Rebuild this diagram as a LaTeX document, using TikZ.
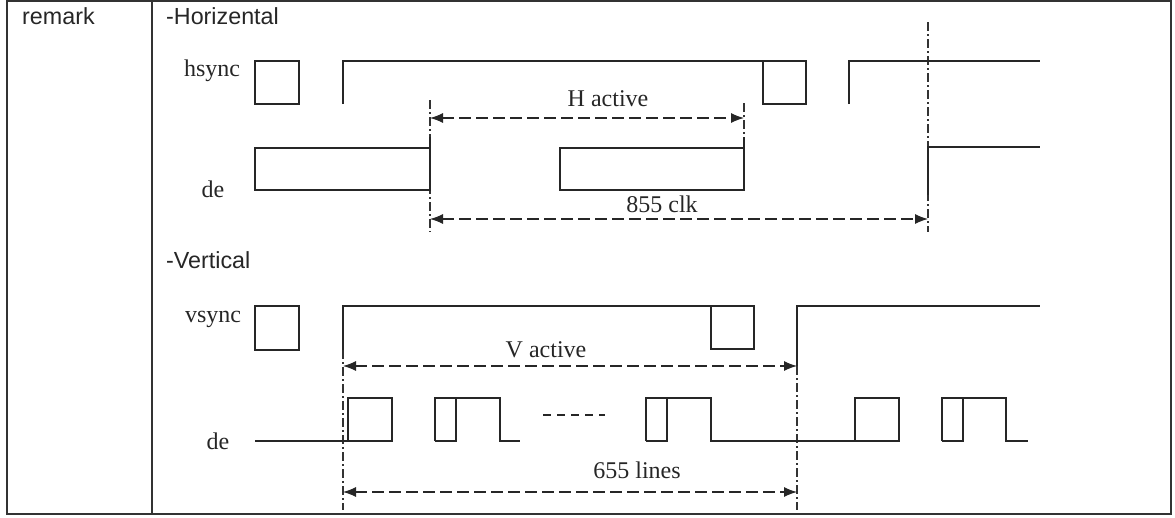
\documentclass[tikz,border=0pt]{standalone}
\usepackage{fontspec}
\setmainfont{Liberation Serif}
\setsansfont{Liberation Sans}
\usetikzlibrary{arrows.meta}

\tikzset{
  wave/.style={line width=1.4pt, draw=black!85},
  guide/.style={line width=1.1pt, draw=black!80, dash pattern=on 9pt off 3pt on 2pt off 3pt},
  span/.style={line width=1.1pt, draw=black!85, dash pattern=on 12pt off 5pt,
    {Latex[length=13pt,width=10pt]}-{Latex[length=13pt,width=10pt]}},
  sig/.style={font=\fontsize{24}{24}\selectfont, inner sep=0pt, anchor=base, text=black!85},
  head/.style={font=\sffamily\fontsize{23.3}{24}\selectfont, inner sep=0pt, anchor=base west, text=black!85},
}

\begin{document}
\begin{tikzpicture}[x=1pt, y=-1pt]
  \useasboundingbox (0,0) rectangle (1175,517);

  % Define table
  \draw[line width=1.8pt, black!80] (7,1) rectangle (1171,514);
  \draw[line width=1.8pt, black!80] (152,1) -- (152,514);

  % Define nodes
  \node[head] (remark) at (22,24)  {remark};
  \node[head] (hor)    at (166,24) {-Horizental};
  \node[head] (ver)    at (166,268) {-Vertical};

  \node[sig] (hsync) at (212,76)  {hsync};
  \node[sig] (hde)   at (213,197) {de};
  \node[sig] (hact)  at (608,106) {H active};
  \node[sig] (clk)   at (662,212) {855 clk};

  \node[sig] (vsync) at (213,322) {vsync};
  \node[sig] (vde)   at (218,449) {de};
  \node[sig] (vact)  at (546,357) {V active};
  \node[sig] (lines) at (637,478) {655 lines};

  % Define end points
  \coordinate (ha1) at (430,118);  \coordinate (ha2) at (744,118);
  \coordinate (hc1) at (430,219);  \coordinate (hc2) at (928,219);
  \coordinate (va1) at (343,366);  \coordinate (va2) at (797,366);
  \coordinate (vl1) at (343,492);  \coordinate (vl2) at (797,492);

  % Guides
  \draw[guide] (430,100) -- (430,232);
  \draw[guide] (744,103) -- (744,148);
  \draw[guide] (928,22) -- (928,232);
  \draw[guide] (343,350) -- (343,510);
  \draw[guide] (797,366) -- (797,510);

  % Horizontal waves
  \draw[wave] (255,61) rectangle (299,104);
  \draw[wave] (343,104) |- (806,61) -- (806,104) -| (763,61);
  \draw[wave] (849,104) |- (1040,61);

  \draw[wave] (255,148) rectangle (430,190);
  \draw[wave] (430,137) -- (430,148);
  \draw[wave] (560,148) rectangle (744,190);
  \draw[wave] (744,137) -- (744,148);
  \draw[wave] (928,195) |- (1040,147);

  % Vertical waves
  \draw[wave] (255,306) rectangle (299,350);
  \draw[wave] (343,350) |- (754,306) -- (754,349) -| (711,306);
  \draw[wave] (797,366) |- (1040,306);

  \draw[wave] (255,441) -- (392,441) |- (348,398) -- (348,441);
  \draw[wave] (435,441) |- (500,398) |- (520,441);
  \draw[wave] (435,441) -- (456,441) -- (456,398);
  \draw[wave, line width=1.1pt, dash pattern=on 8pt off 6pt] (543,415) -- (605,415);
  \draw[wave] (646,441) |- (711,398) |- (899,441) |- (855,398) -- (855,441);
  \draw[wave] (646,441) -- (667,441) -- (667,398);
  \draw[wave] (942,441) |- (1006,398) |- (1028,441);
  \draw[wave] (942,441) -- (963,441) -- (963,398);

  % Connect the nodes
  \draw[span] (ha1) -- (ha2);
  \draw[span] (hc1) -- (hc2);
  \draw[span] (va1) -- (va2);
  \draw[span] (vl1) -- (vl2);
\end{tikzpicture}
\end{document}
